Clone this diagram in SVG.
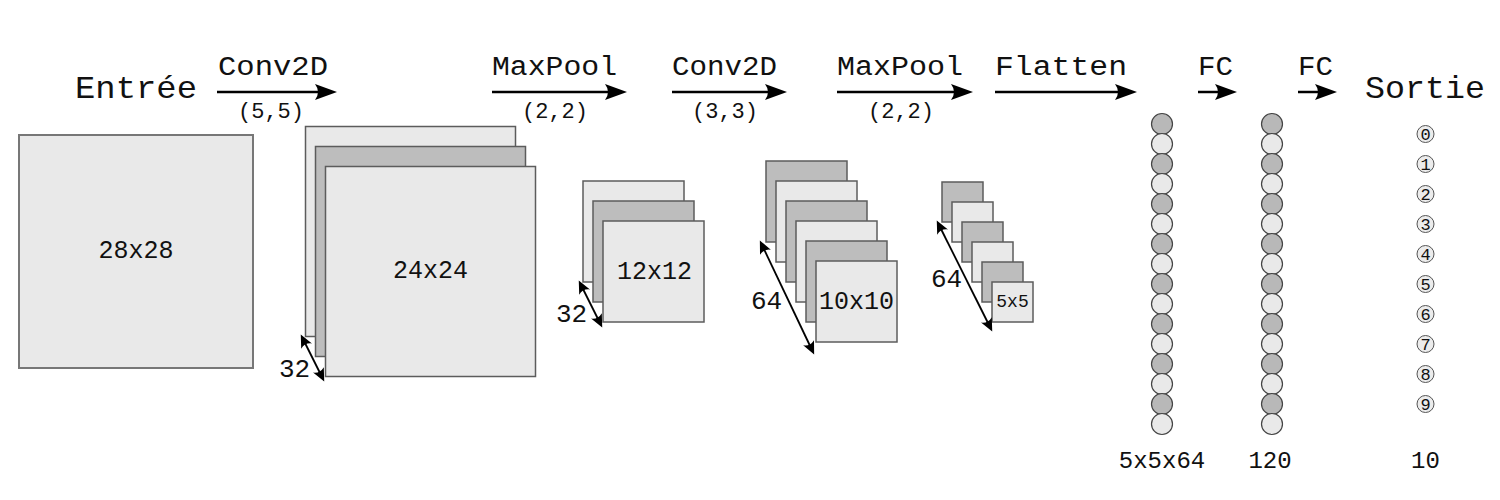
<svg xmlns="http://www.w3.org/2000/svg" width="1500" height="500" viewBox="0 0 1500 500">
<defs>
<style>
text{font-family:"Liberation Mono","DejaVu Sans Mono",monospace;fill:#111}
.lt{fill:#e9e9e9;stroke:#5c5c5c;stroke-width:1.5}
.dk{fill:#bdbdbd;stroke:#5c5c5c;stroke-width:1.5}
.in{fill:#e9e9e9;stroke:#777;stroke-width:2}
.cl{fill:#e9e9e9;stroke:#444;stroke-width:1.2}
.cd{fill:#b8b8b8;stroke:#444;stroke-width:1.2}
.co{fill:#ececec;stroke:#555;stroke-width:1}
.big{font-size:32px}
.op{font-size:27px}
.sub{font-size:22px}
.dim{font-size:26px}
.cnt{font-size:25px;text-anchor:middle}
.bot{font-size:24px;text-anchor:middle}
.dig{font-size:17px;text-anchor:middle}
.main{stroke:#000;stroke-width:2.5;fill:none;marker-end:url(#ah)}
.dbl{stroke:#000;stroke-width:1.8;fill:none;marker-start:url(#sh);marker-end:url(#sh)}
</style>
<marker id="ah" markerUnits="userSpaceOnUse" viewBox="-24 -10 26 20" refX="-10" refY="0" markerWidth="26" markerHeight="20" orient="auto">
<path d="M0,0 L-22,-8 Q-16,0 -22,8 Z" fill="#000"/>
</marker>
<marker id="sh" markerUnits="userSpaceOnUse" viewBox="-15 -8 16 16" refX="-5" refY="0" markerWidth="16" markerHeight="16" orient="auto-start-reverse">
<path d="M0,0 L-13,-6 Q-9,0 -13,6 Z" fill="#000"/>
</marker>
</defs>
<rect width="1500" height="500" fill="#fff"/>

<g id="titles">
<text class="big" x="75" y="98" textLength="122" lengthAdjust="spacingAndGlyphs">Entrée</text>
<text class="big" x="1365" y="98" textLength="120" lengthAdjust="spacingAndGlyphs">Sortie</text>
</g>

<g id="connectors">
<line class="main" x1="217" y1="92" x2="327" y2="92"/>
<line class="main" x1="492" y1="92" x2="617" y2="92"/>
<line class="main" x1="672" y1="92" x2="777" y2="92"/>
<line class="main" x1="837" y1="92" x2="963" y2="92"/>
<line class="main" x1="995" y1="92" x2="1127" y2="92"/>
<line class="main" x1="1198" y1="92" x2="1227" y2="92"/>
<line class="main" x1="1298" y1="92" x2="1327" y2="92"/>
<text class="op" x="218" y="75" textLength="110" lengthAdjust="spacingAndGlyphs">Conv2D</text>
<text class="sub" x="271" y="118" text-anchor="middle">(5,5)</text>
<text class="op" x="492" y="75" textLength="125" lengthAdjust="spacingAndGlyphs">MaxPool</text>
<text class="sub" x="555" y="118" text-anchor="middle">(2,2)</text>
<text class="op" x="672" y="75" textLength="105" lengthAdjust="spacingAndGlyphs">Conv2D</text>
<text class="sub" x="725" y="118" text-anchor="middle">(3,3)</text>
<text class="op" x="837" y="75" textLength="126" lengthAdjust="spacingAndGlyphs">MaxPool</text>
<text class="sub" x="901" y="118" text-anchor="middle">(2,2)</text>
<text class="op" x="995" y="75" textLength="132" lengthAdjust="spacingAndGlyphs">Flatten</text>
<text class="op" x="1198" y="75" textLength="35" lengthAdjust="spacingAndGlyphs">FC</text>
<text class="op" x="1298" y="75" textLength="35" lengthAdjust="spacingAndGlyphs">FC</text>
</g>

<g id="input">
<rect class="in" x="19" y="135" width="234" height="233"/>
<text class="cnt" x="136" y="258">28x28</text>
</g>

<g id="conv1">
<rect class="lt" x="305.5" y="126.5" width="210" height="210"/>
<rect class="dk" x="315.5" y="146.5" width="210" height="210"/>
<rect class="lt" x="325.5" y="166.5" width="210" height="210"/>
<text class="cnt" x="430.5" y="278">24x24</text>
<line class="dbl" x1="303" y1="339" x2="322" y2="377"/>
<text class="dim" x="279" y="377">32</text>
</g>

<g id="pool1">
<rect class="lt" x="583" y="181" width="101" height="101"/>
<rect class="dk" x="593" y="201" width="101" height="101"/>
<rect class="lt" x="603" y="221" width="101" height="101"/>
<text class="cnt" x="654.5" y="279">12x12</text>
<line class="dbl" x1="581" y1="285" x2="600" y2="323"/>
<text class="dim" x="556" y="322">32</text>
</g>

<g id="conv2">
<rect class="dk" x="766" y="161" width="81" height="81"/>
<rect class="lt" x="776" y="181" width="81" height="81"/>
<rect class="dk" x="786" y="201" width="81" height="81"/>
<rect class="lt" x="796" y="221" width="81" height="81"/>
<rect class="dk" x="806" y="241" width="81" height="81"/>
<rect class="lt" x="816" y="261" width="81" height="81"/>
<text class="cnt" x="856.5" y="309">10x10</text>
<line class="dbl" x1="762" y1="245" x2="812" y2="350"/>
<text class="dim" x="751" y="309">64</text>
</g>

<g id="pool2">
<rect class="dk" x="942" y="182" width="41" height="40"/>
<rect class="lt" x="952" y="202" width="41" height="40"/>
<rect class="dk" x="962" y="222" width="41" height="40"/>
<rect class="lt" x="972" y="242" width="41" height="40"/>
<rect class="dk" x="982" y="262" width="41" height="40"/>
<rect class="lt" x="992" y="282" width="41" height="40"/>
<text x="1012.5" y="307" style="font-size:18px;text-anchor:middle">5x5</text>
<line class="dbl" x1="939" y1="225" x2="990" y2="327"/>
<text class="dim" x="931" y="287">64</text>
</g>

<g id="flat">
<circle class="cd" cx="1162" cy="124" r="10.5"/>
<circle class="cl" cx="1162" cy="144" r="10.5"/>
<circle class="cd" cx="1162" cy="164" r="10.5"/>
<circle class="cl" cx="1162" cy="184" r="10.5"/>
<circle class="cd" cx="1162" cy="204" r="10.5"/>
<circle class="cl" cx="1162" cy="224" r="10.5"/>
<circle class="cd" cx="1162" cy="244" r="10.5"/>
<circle class="cl" cx="1162" cy="264" r="10.5"/>
<circle class="cd" cx="1162" cy="284" r="10.5"/>
<circle class="cl" cx="1162" cy="304" r="10.5"/>
<circle class="cd" cx="1162" cy="324" r="10.5"/>
<circle class="cl" cx="1162" cy="344" r="10.5"/>
<circle class="cd" cx="1162" cy="364" r="10.5"/>
<circle class="cl" cx="1162" cy="384" r="10.5"/>
<circle class="cd" cx="1162" cy="404" r="10.5"/>
<circle class="cl" cx="1162" cy="424" r="10.5"/>
<text class="bot" x="1162" y="468">5x5x64</text>
</g>

<g id="fc1">
<circle class="cd" cx="1272" cy="124" r="10.5"/>
<circle class="cl" cx="1272" cy="144" r="10.5"/>
<circle class="cd" cx="1272" cy="164" r="10.5"/>
<circle class="cl" cx="1272" cy="184" r="10.5"/>
<circle class="cd" cx="1272" cy="204" r="10.5"/>
<circle class="cl" cx="1272" cy="224" r="10.5"/>
<circle class="cd" cx="1272" cy="244" r="10.5"/>
<circle class="cl" cx="1272" cy="264" r="10.5"/>
<circle class="cd" cx="1272" cy="284" r="10.5"/>
<circle class="cl" cx="1272" cy="304" r="10.5"/>
<circle class="cd" cx="1272" cy="324" r="10.5"/>
<circle class="cl" cx="1272" cy="344" r="10.5"/>
<circle class="cd" cx="1272" cy="364" r="10.5"/>
<circle class="cl" cx="1272" cy="384" r="10.5"/>
<circle class="cd" cx="1272" cy="404" r="10.5"/>
<circle class="cl" cx="1272" cy="424" r="10.5"/>
<text class="bot" x="1270" y="468">120</text>
</g>

<g id="output">
<circle class="co" cx="1425.5" cy="134" r="8.5"/><text class="dig" x="1425.5" y="140">0</text>
<circle class="co" cx="1425.5" cy="164" r="8.5"/><text class="dig" x="1425.5" y="170">1</text>
<circle class="co" cx="1425.5" cy="194" r="8.5"/><text class="dig" x="1425.5" y="200">2</text>
<circle class="co" cx="1425.5" cy="224" r="8.5"/><text class="dig" x="1425.5" y="230">3</text>
<circle class="co" cx="1425.5" cy="254" r="8.5"/><text class="dig" x="1425.5" y="260">4</text>
<circle class="co" cx="1425.5" cy="284" r="8.5"/><text class="dig" x="1425.5" y="290">5</text>
<circle class="co" cx="1425.5" cy="314" r="8.5"/><text class="dig" x="1425.5" y="320">6</text>
<circle class="co" cx="1425.5" cy="344" r="8.5"/><text class="dig" x="1425.5" y="350">7</text>
<circle class="co" cx="1425.5" cy="374" r="8.5"/><text class="dig" x="1425.5" y="380">8</text>
<circle class="co" cx="1425.5" cy="404" r="8.5"/><text class="dig" x="1425.5" y="410">9</text>
<text class="bot" x="1425.5" y="468">10</text>
</g>
</svg>
